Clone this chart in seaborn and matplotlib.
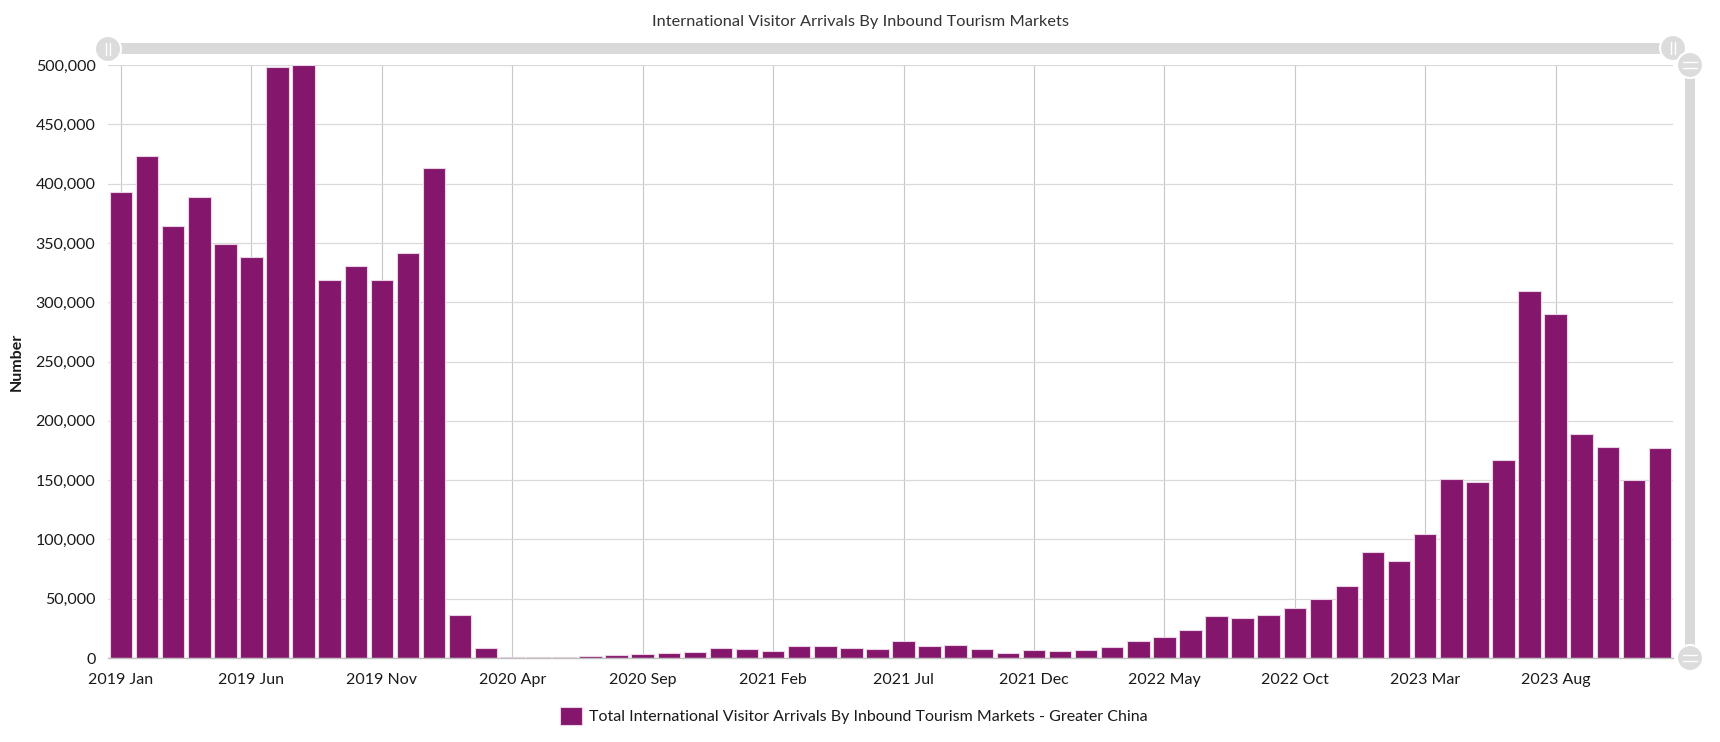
import matplotlib
matplotlib.use("Agg")

import matplotlib.pyplot as plt
import numpy as np
import pandas as pd
import seaborn as sns
from matplotlib.patches import Circle, Rectangle

# ── Data ───────────────────────────────────────────────────────────────
START_MONTH = "2019-01"
N_MONTHS = 60
arrivals = [
    393000, 423000, 364500, 388500, 349000, 338500, 498500, 500000, 318500, 330500,
    319000, 341500, 413000, 36500, 8700, 500, 500, 800, 1700, 2800,
    3100, 3900, 4700, 8700, 7500, 5600, 9800, 9800, 8100, 7500,
    14000, 10300, 10600, 7300, 4500, 6400, 6100, 6700, 8900, 14200,
    17800, 23500, 35500, 33600, 36300, 42300, 49500, 60500, 89000, 82000,
    104800, 150800, 148000, 167000, 309800, 289900, 189000, 178000, 150300, 177000,
]
y_ticks = list(range(0, 500001, 50000))
tick_every = 5

TITLE = "International Visitor Arrivals By Inbound Tourism Markets"
SERIES = "Total International Visitor Arrivals By Inbound Tourism Markets - Greater China"
BAR = "#84166B"
W, H = 1720, 742
FS = 11.5

months = pd.period_range(START_MONTH, periods=N_MONTHS, freq="M").strftime("%Y %b")
df = pd.DataFrame({"month": months, "arrivals": arrivals})

sns.set_style("white")
plt.rcParams["font.family"] = ["Lato", "DejaVu Sans"]

fig = plt.figure(figsize=(W / 100, H / 100), dpi=100)
ax = fig.add_axes([108 / W, 1 - 658 / H, (1673 - 108) / W, (658 - 65) / H])

sns.barplot(data=df, x="month", y="arrivals", color=BAR, saturation=1,
            width=0.86, edgecolor="#ead3e4", linewidth=0.8, ax=ax, label=SERIES)

ax.set_xlim(-0.5, N_MONTHS - 0.5)
ax.set_ylim(0, 500000)
ax.set_yticks(y_ticks)
ax.yaxis.set_major_formatter(matplotlib.ticker.StrMethodFormatter("{x:,.0f}"))
pos = list(range(0, N_MONTHS, tick_every))
ax.set_xticks(pos)
ax.set_xticklabels([months[i] for i in pos])
ax.tick_params(axis="both", length=0, labelsize=FS, colors="#1a1a1a")
ax.tick_params(axis="y", pad=9)
ax.tick_params(axis="x", pad=11)

ax.grid(axis="y", color="#dadada", lw=0.9)
ax.grid(axis="x", color="#c8c8c8", lw=0.8)
ax.set_axisbelow(True)
for side in ["top", "right", "left"]:
    ax.spines[side].set_visible(False)
ax.spines["bottom"].set_color("#bfbfbf")
ax.spines["bottom"].set_linewidth(1)

ax.set_xlabel("")
ax.set_ylabel("Number", fontsize=FS, fontweight="bold", color="#1a1a1a")
ax.yaxis.set_label_coords((24 - 108) / (1673 - 108), 0.5)
if ax.get_legend():
    ax.get_legend().remove()

fig.text(0.5, 1 - 22 / H, TITLE, ha="center", va="center", fontsize=11.8, color="#333333")

handles, labels = ax.get_legend_handles_labels()
fig.legend(handles, labels, loc="center", bbox_to_anchor=(854 / W, 1 - 716 / H),
           frameon=False, fontsize=FS, handlelength=1.4, handleheight=1.4,
           handletextpad=0.45, labelcolor="#1a1a1a")

# navigator sliders (decoration)
ov = fig.add_axes([0, 0, 1, 1], zorder=5)
ov.set_xlim(0, W)
ov.set_ylim(H, 0)
ov.axis("off")
ov.add_patch(Rectangle((108, 43), 1673 - 108, 11, color="#d9d9d9", lw=0))
ov.add_patch(Rectangle((1685, 65), 10, 658 - 65, color="#d9d9d9", lw=0))
for cx, cy, horiz in [(108, 49, True), (1673, 48, True), (1690, 65, False), (1690, 658, False)]:
    ov.add_patch(Circle((cx, cy), 13, facecolor="#dcdcdc", edgecolor="white", lw=1.5))
    if horiz:
        for dx in (-2, 2):
            ov.plot([cx + dx, cx + dx], [cy - 6, cy + 6], color="white", lw=1)
    else:
        for dy in (-3, 3):
            ov.plot([cx - 7, cx + 7], [cy + dy, cy + dy], color="white", lw=1)

fig.savefig("out.png", dpi=100)
